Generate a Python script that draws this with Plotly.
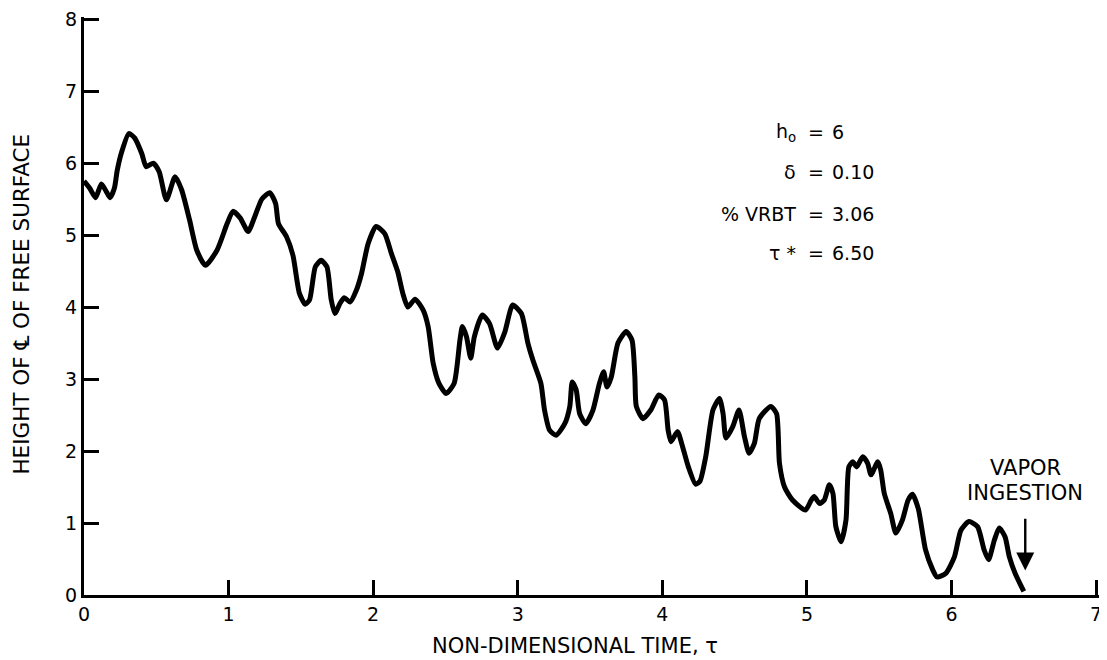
import plotly.graph_objects as go

# Data
tau = [0.00, 0.04, 0.08, 0.12, 0.15, 0.18, 0.21, 0.23, 0.26, 0.31, 0.35, 0.40, 0.43, 0.48, 0.52,
       0.57, 0.63, 0.675, 0.73, 0.78, 0.84, 0.92, 0.99, 1.03, 1.08, 1.135, 1.18, 1.23, 1.285,
       1.325, 1.345, 1.40, 1.445, 1.49, 1.53, 1.56, 1.60, 1.64, 1.68, 1.71, 1.735, 1.77, 1.80,
       1.84, 1.885, 1.92, 1.965, 2.02, 2.08, 2.125, 2.17, 2.205, 2.24, 2.29, 2.345, 2.38, 2.415,
       2.455, 2.505, 2.56, 2.60, 2.617, 2.645, 2.675, 2.70, 2.755, 2.805, 2.86, 2.91, 2.965,
       3.025, 3.07, 3.105, 3.16, 3.185, 3.22, 3.265, 3.325, 3.36, 3.377, 3.404, 3.428, 3.47,
       3.52, 3.565, 3.594, 3.617, 3.647, 3.693, 3.75, 3.79, 3.81, 3.82, 3.866, 3.92, 3.975,
       4.015, 4.04, 4.06, 4.105, 4.14, 4.18, 4.23, 4.26, 4.30, 4.35, 4.395, 4.42, 4.44, 4.487,
       4.53, 4.568, 4.60, 4.637, 4.67, 4.75, 4.79, 4.81, 4.845, 4.90, 4.99, 5.03, 5.05, 5.087,
       5.12, 5.155, 5.18, 5.20, 5.236, 5.27, 5.29, 5.317, 5.344, 5.386, 5.42, 5.443, 5.49, 5.51,
       5.535, 5.58, 5.615, 5.66, 5.70, 5.73, 5.77, 5.82, 5.87, 5.90, 5.96, 6.02, 6.065, 6.12,
       6.18, 6.225, 6.256, 6.296, 6.33, 6.37, 6.40, 6.44, 6.50]
height = [5.75, 5.65, 5.52, 5.71, 5.62, 5.52, 5.65, 5.90, 6.15, 6.41, 6.35, 6.13, 5.95, 6.00, 5.88,
          5.49, 5.81, 5.63, 5.21, 4.79, 4.58, 4.79, 5.16, 5.33, 5.24, 5.05, 5.25, 5.50, 5.59,
          5.44, 5.16, 4.98, 4.72, 4.19, 4.04, 4.10, 4.56, 4.65, 4.56, 4.10, 3.91, 4.05, 4.13,
          4.07, 4.24, 4.47, 4.88, 5.12, 5.02, 4.75, 4.49, 4.19, 4.00, 4.11, 3.96, 3.73, 3.22,
          2.94, 2.80, 2.94, 3.54, 3.73, 3.59, 3.29, 3.59, 3.89, 3.77, 3.43, 3.65, 4.03,
          3.91, 3.50, 3.26, 2.94, 2.57, 2.29, 2.22, 2.38, 2.62, 2.96, 2.85, 2.52, 2.38,
          2.57, 2.94, 3.10, 2.89, 3.03, 3.50, 3.66, 3.54, 3.03, 2.62, 2.45, 2.57, 2.78,
          2.71, 2.29, 2.13, 2.27, 2.06, 1.78, 1.54, 1.58, 1.92, 2.57, 2.73, 2.52, 2.18, 2.34,
          2.57, 2.20, 1.97, 2.11, 2.45, 2.62, 2.52, 1.83, 1.50, 1.32, 1.18, 1.32, 1.37, 1.27,
          1.32, 1.53, 1.41, 0.95, 0.74, 1.04, 1.78, 1.85, 1.78, 1.92, 1.83, 1.67, 1.85, 1.74,
          1.41, 1.13, 0.86, 1.04, 1.32, 1.40, 1.20, 0.63, 0.35, 0.25, 0.30, 0.53, 0.90, 1.02,
          0.95, 0.63, 0.49, 0.76, 0.93, 0.81, 0.53, 0.30, 0.05]

x_ticks = [0, 1, 2, 3, 4, 5, 6, 7]
y_ticks = [0, 1, 2, 3, 4, 5, 6, 7, 8]

param_labels = ["h<sub>o</sub>", "δ", "% VRBT", "τ *"]
param_values = ["6", "0.10", "3.06", "6.50"]
param_rows = [6.43, 5.88, 5.30, 4.75]

vapor_tau = 6.51

FONT = "DejaVu Sans, sans-serif"

fig = go.Figure()
fig.add_trace(go.Scatter(x=tau, y=height, mode="lines",
                         line=dict(color="black", width=5, shape="spline", smoothing=0.6),
                         hoverinfo="skip", showlegend=False))

annotations = []
for lab, val, yy in zip(param_labels, param_values, param_rows):
    annotations.append(dict(x=4.94, y=yy, xref="x", yref="y", text=lab, showarrow=False,
                            xanchor="right", yanchor="middle", font=dict(size=19, color="black", family=FONT)))
    annotations.append(dict(x=5.065, y=yy, xref="x", yref="y", text="=", showarrow=False,
                            xanchor="center", yanchor="middle", font=dict(size=19, color="black", family=FONT)))
    annotations.append(dict(x=5.16, y=yy, xref="x", yref="y", text=val, showarrow=False,
                            xanchor="left", yanchor="middle", font=dict(size=19, color="black", family=FONT)))

annotations.append(dict(x=vapor_tau, y=1.76, xref="x", yref="y", text="VAPOR", showarrow=False,
                        xanchor="center", yanchor="middle", font=dict(size=21, color="black", family=FONT)))
annotations.append(dict(x=vapor_tau, y=1.42, xref="x", yref="y", text="INGESTION", showarrow=False,
                        xanchor="center", yanchor="middle", font=dict(size=21, color="black", family=FONT)))
annotations.append(dict(x=vapor_tau, y=0.34, ax=vapor_tau, ay=1.08, xref="x", yref="y",
                        axref="x", ayref="y", text="", showarrow=True, arrowhead=2,
                        arrowsize=1.5, arrowwidth=2.4, arrowcolor="black"))

annotations.append(dict(x=-0.0612, y=0.504, xref="paper", yref="paper",
                        text="HEIGHT OF ℄ OF FREE SURFACE", showarrow=False, textangle=-90,
                        xanchor="center", yanchor="middle", font=dict(size=21.5, color="black", family=FONT)))
annotations.append(dict(x=0.4837, y=-0.0885, xref="paper", yref="paper",
                        text="NON-DIMENSIONAL TIME, τ", showarrow=False,
                        xanchor="center", yanchor="middle", font=dict(size=21, color="black", family=FONT)))

# The page body adds an 8px offset; the figure is sized so the plot lands at the reference position.
fig.update_layout(
    width=1099, height=652,
    margin=dict(l=76, r=8, t=9, b=65, autoexpand=False),
    paper_bgcolor="white", plot_bgcolor="white",
    annotations=annotations,
    showlegend=False,
)
fig.update_xaxes(range=[0, 7.02], tickvals=x_ticks, ticktext=[str(v) for v in x_ticks],
                 showgrid=False, zeroline=False, showline=True, linecolor="black", linewidth=3,
                 ticks="inside", ticklen=15, tickwidth=2.5, tickcolor="black",
                 ticklabeloverflow="allow", automargin=False,
                 tickfont=dict(size=19, color="black", family=FONT))
fig.update_yaxes(range=[0, 8.03], tickvals=y_ticks, ticktext=[str(v) for v in y_ticks],
                 showgrid=False, zeroline=False, showline=True, linecolor="black", linewidth=3,
                 ticks="inside", ticklen=15, tickwidth=2.5, tickcolor="black",
                 ticklabeloverflow="allow", automargin=False,
                 tickfont=dict(size=19, color="black", family=FONT))

fig.write_html("out.html")
